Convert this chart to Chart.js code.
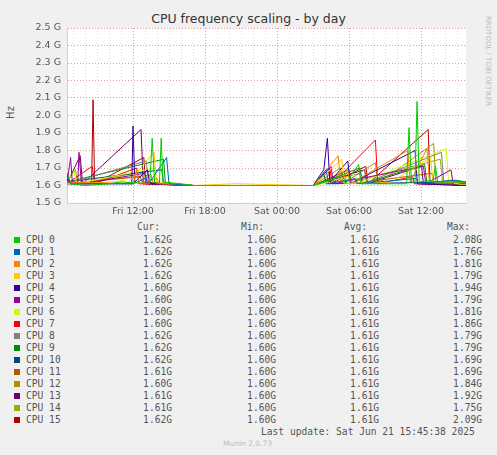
<!DOCTYPE html>
<html>
<head>
<meta charset="utf-8">
<script src="https://cdn.jsdelivr.net/npm/chart.js@4"></script>
<style>
  body { margin: 0; background: #f0f0f0; width: 497px; height: 455px; position: relative; overflow: hidden; font-family: "DejaVu Sans", sans-serif; }
  #wrap { position: absolute; left: 0; top: 0; width: 497px; height: 220px; }
  .t { position: absolute; white-space: pre; }
  #titulo { left: 0; width: 497px; top: 11px; text-align: center; font-size: 12.5px; color: #333; }
  #hz { left: 4px; top: 107px; font-size: 10px; color: #555; transform: rotate(-90deg); }
  #rrd { left: 484px; top: 16px; font-size: 7px; color: #bbb; writing-mode: vertical-rl; }
  #leyenda { position: absolute; left: 0; top: 221px; font-family: "DejaVu Sans Mono", monospace; font-size: 9.6px; color: #555; }
  .fila { position: absolute; height: 12px; line-height: 12px; white-space: nowrap; }
  .c { position: absolute; text-align: right; width: 60px; }
  .sw { position: absolute; width: 6px; height: 6px; left: 14px; top: 3px; }
</style>
</head>
<body>
<div class="t" id="titulo">CPU frequency scaling - by day</div>
<div class="t" id="hz">Hz</div>
<div class="t" id="rrd">RRDTOOL / TOBI OETIKER</div>
<div id="wrap"><canvas id="grafica" width="497" height="220"></canvas></div>
<div id="leyenda"></div>
<script>
// horas desde Fri 00:00, valores en GHz
const colores = ['#00CC00','#0066B3','#FF8000','#FFCC00','#330099','#990099','#CCFF00','#FF0000',
                 '#808080','#008F00','#00487D','#B35A00','#B38F00','#6B006B','#8FB300','#B30000'];
const nombres = ['CPU 0','CPU 1','CPU 2','CPU 3','CPU 4','CPU 5','CPU 6','CPU 7',
                 'CPU 8','CPU 9','CPU 10','CPU 11','CPU 12','CPU 13','CPU 14','CPU 15'];
const cur = ['1.62G','1.62G','1.62G','1.62G','1.60G','1.60G','1.60G','1.60G','1.62G','1.62G','1.62G','1.61G','1.60G','1.61G','1.61G','1.62G'];
const min = ['1.60G','1.60G','1.60G','1.60G','1.60G','1.60G','1.60G','1.60G','1.60G','1.60G','1.60G','1.60G','1.60G','1.60G','1.60G','1.60G'];
const avg = ['1.61G','1.61G','1.61G','1.61G','1.61G','1.61G','1.61G','1.61G','1.61G','1.61G','1.61G','1.61G','1.61G','1.61G','1.61G','1.61G'];
const max = ['2.08G','1.76G','1.81G','1.79G','1.94G','1.79G','1.81G','1.86G','1.79G','1.79G','1.69G','1.69G','1.84G','1.92G','1.75G','2.09G'];
const ticksY = [1.5,1.6,1.7,1.8,1.9,2.0,2.1,2.2,2.3,2.4,2.5];
const ticksX = {12:'Fri 12:00',18:'Fri 18:00',24:'Sat 00:00',30:'Sat 06:00',36:'Sat 12:00'};

const cpu0 = [[6.5,1.65],[6.9,1.61],[8,1.60],[10,1.61],[11,1.62],[13.4,1.61],[13.6,1.87],[13.8,1.62],[14.2,1.61],[14.35,1.87],[14.5,1.62],[16,1.61],[17,1.60],[27,1.60],[28,1.62],[29.5,1.66],[29.7,1.61],[30.8,1.72],[31,1.61],[33,1.61],[34.8,1.61],[35,1.93],[35.2,1.62],[35.5,1.62],[35.67,2.08],[35.85,1.62],[37,1.63],[37.2,1.71],[37.4,1.62],[39.75,1.62]];
const cpu1 = [[6.5,1.67],[6.8,1.61],[12,1.61],[13,1.64],[13.3,1.61],[14.8,1.76],[15,1.61],[17,1.60],[27,1.60],[28.1,1.69],[28.3,1.61],[30.5,1.64],[30.7,1.61],[35.6,1.64],[35.8,1.61],[38.5,1.63],[39.75,1.62]];
const cpu2 = [[6.5,1.62],[12,1.61],[12.3,1.69],[12.5,1.61],[14,1.64],[14.2,1.61],[17,1.60],[27,1.60],[29.1,1.77],[29.3,1.62],[29.9,1.68],[30.1,1.61],[34.9,1.80],[35.1,1.62],[36.5,1.81],[36.7,1.62],[39.75,1.62]];
const cpu3 = [[6.5,1.61],[10.3,1.62],[11.3,1.63],[11.5,1.61],[13.75,1.79],[13.95,1.62],[17,1.60],[20.5,1.61],[27,1.60],[29.4,1.75],[29.6,1.61],[33.5,1.62],[36.8,1.76],[37,1.62],[39.75,1.62]];
const cpu4 = [[6.5,1.66],[6.7,1.61],[11.9,1.61],[12,1.94],[12.15,1.62],[13.2,1.69],[13.4,1.61],[17,1.60],[27,1.60],[27.9,1.69],[28.2,1.87],[28.4,1.62],[29.9,1.74],[30.1,1.61],[35.5,1.80],[35.7,1.61],[39.75,1.60]];
const cpu5 = [[6.5,1.61],[6.8,1.76],[6.95,1.61],[7.4,1.62],[7.5,1.79],[7.7,1.61],[13,1.67],[13.2,1.61],[17,1.60],[27,1.60],[28.5,1.71],[28.7,1.61],[36.2,1.71],[36.4,1.61],[38.5,1.69],[38.7,1.60],[39.75,1.60]];
const cpu6 = [[6.5,1.62],[7.1,1.68],[7.3,1.61],[13.8,1.70],[14,1.61],[17,1.60],[27,1.60],[30.5,1.66],[30.7,1.61],[38.1,1.81],[38.3,1.62],[39.75,1.60]];
const cpu7 = [[6.5,1.61],[8.6,1.71],[8.8,1.61],[12.3,1.70],[12.5,1.61],[17,1.60],[27,1.60],[28.4,1.70],[28.6,1.61],[32.2,1.86],[32.4,1.61],[35.3,1.65],[35.45,1.61],[39.75,1.60]];
const cpu8 = [[6.5,1.61],[13.1,1.74],[13.3,1.61],[17,1.60],[27,1.60],[31,1.67],[31.2,1.61],[37.7,1.79],[37.9,1.62],[39.75,1.62]];
const cpu9 = [[6.5,1.62],[14.55,1.75],[14.7,1.61],[17,1.60],[27,1.60],[30.9,1.70],[31.1,1.61],[36.3,1.72],[36.5,1.61],[38.9,1.63],[39.75,1.62]];
const cpu10 = [[6.5,1.62],[14.4,1.69],[14.55,1.61],[17,1.60],[27,1.60],[27.9,1.67],[28.1,1.61],[39.75,1.62]];
const cpu11 = [[6.5,1.61],[12.6,1.65],[12.8,1.61],[17,1.60],[27,1.60],[30,1.69],[30.2,1.61],[36.9,1.67],[37.1,1.61],[39.75,1.61]];
const cpu12 = [[6.5,1.61],[13.5,1.66],[13.7,1.61],[17,1.60],[27,1.60],[29.3,1.70],[29.5,1.61],[32.2,1.73],[32.4,1.61],[37.05,1.84],[37.25,1.62],[39.75,1.60]];
const cpu13 = [[6.5,1.61],[7.6,1.77],[7.8,1.61],[12.67,1.92],[12.85,1.62],[17,1.60],[27,1.60],[31.3,1.69],[31.5,1.61],[36.05,1.71],[36.2,1.61],[39.75,1.61]];
const cpu14 = [[6.5,1.62],[7.2,1.69],[7.4,1.61],[13,1.68],[13.2,1.61],[17,1.60],[27,1.60],[29.6,1.68],[29.8,1.61],[37.6,1.75],[37.8,1.62],[39.75,1.61]];
const cpu15 = [[6.5,1.61],[8.55,1.61],[8.67,2.09],[8.8,1.61],[12.9,1.76],[13.05,1.61],[17,1.60],[27,1.60],[28.3,1.68],[28.5,1.61],[31.4,1.71],[31.6,1.61],[36.6,1.92],[36.75,1.62],[39.75,1.62]];
const series = [cpu0,cpu1,cpu2,cpu3,cpu4,cpu5,cpu6,cpu7,cpu8,cpu9,cpu10,cpu11,cpu12,cpu13,cpu14,cpu15];

// leyenda en html
const ley = document.getElementById('leyenda');
let html = '<div class="fila" style="top:0"><span class="c" style="left:100px">Cur:</span><span class="c" style="left:204px">Min:</span><span class="c" style="left:307px">Avg:</span><span class="c" style="left:410px">Max:</span></div>';
nombres.forEach((n, i) => {
    const top = 13 + i * 12;
    html += `<div class="fila" style="top:${top}px;width:497px"><span class="sw" style="background:${colores[i]}"></span>` +
            `<span style="position:absolute;left:26px">${n}</span>` +
            `<span class="c" style="left:112px">${cur[i]}</span><span class="c" style="left:216px">${min[i]}</span>` +
            `<span class="c" style="left:319px">${avg[i]}</span><span class="c" style="left:422px">${max[i]}</span></div>`;
});
html += '<div class="fila" style="top:205px;left:261px">Last update: Sat Jun 21 15:45:38 2025</div>';
html += '<div class="fila" style="top:217px;left:223px;font-family:DejaVu Sans;font-size:7.5px;color:#bbb">Munin 2.0.73</div>';
ley.innerHTML = html;

const fondoBlanco = {
    id: 'fondoBlanco',
    beforeDraw(chart) {
        const a = chart.chartArea, ctx = chart.ctx;
        ctx.save(); ctx.fillStyle = '#ffffff';
        ctx.fillRect(a.left, a.top, a.right - a.left, a.bottom - a.top);
        ctx.restore();
    }
};

new Chart(document.getElementById('grafica'), {
    type: 'line',
    data: {
        datasets: series.map((s, i) => ({
            label: nombres[i],
            data: s.map(p => ({x: p[0], y: p[1]})),
            borderColor: colores[i],
            borderWidth: 1,
            pointRadius: 0,
            tension: 0
        }))
    },
    plugins: [fondoBlanco],
    options: {
        responsive: false,
        animation: false,
        devicePixelRatio: 1,
        layout: { padding: { top: 28, right: 31, left: 0, bottom: 0 } },
        plugins: { legend: { display: false }, tooltip: { enabled: false } },
        scales: {
            x: {
                type: 'linear', min: 6.5, max: 39.75,
                afterBuildTicks: s => { const t = []; for (let h = 7; h <= 39; h++) t.push({value: h}); s.ticks = t; },
                afterFit: s => { s.height = 17; },
                ticks: { autoSkip: false, maxRotation: 0, padding: 3, color: '#555', font: { family: 'DejaVu Sans', size: 9.5 },
                         callback: v => ticksX[v] || '' },
                grid: { color: c => (c.tick && c.tick.value % 6 === 0) ? '#e89a9a' : '#e6d6d6',
                        tickLength: 0, drawTicks: false },
                border: { color: '#c8cfe8', dash: [1, 2] }
            },
            y: {
                min: 1.5, max: 2.5,
                afterBuildTicks: s => { s.ticks = ticksY.map(v => ({value: v})); },
                afterFit: s => { s.width = 67; },
                ticks: { autoSkip: false, padding: 6, color: '#555', font: { family: 'DejaVu Sans', size: 9.5 },
                         callback: v => v.toFixed(1) + ' G' },
                grid: { color: '#e89a9a', tickLength: 0, drawTicks: false },
                border: { color: '#c8cfe8', dash: [1, 2] }
            }
        }
    }
});
</script>
</body>
</html>
